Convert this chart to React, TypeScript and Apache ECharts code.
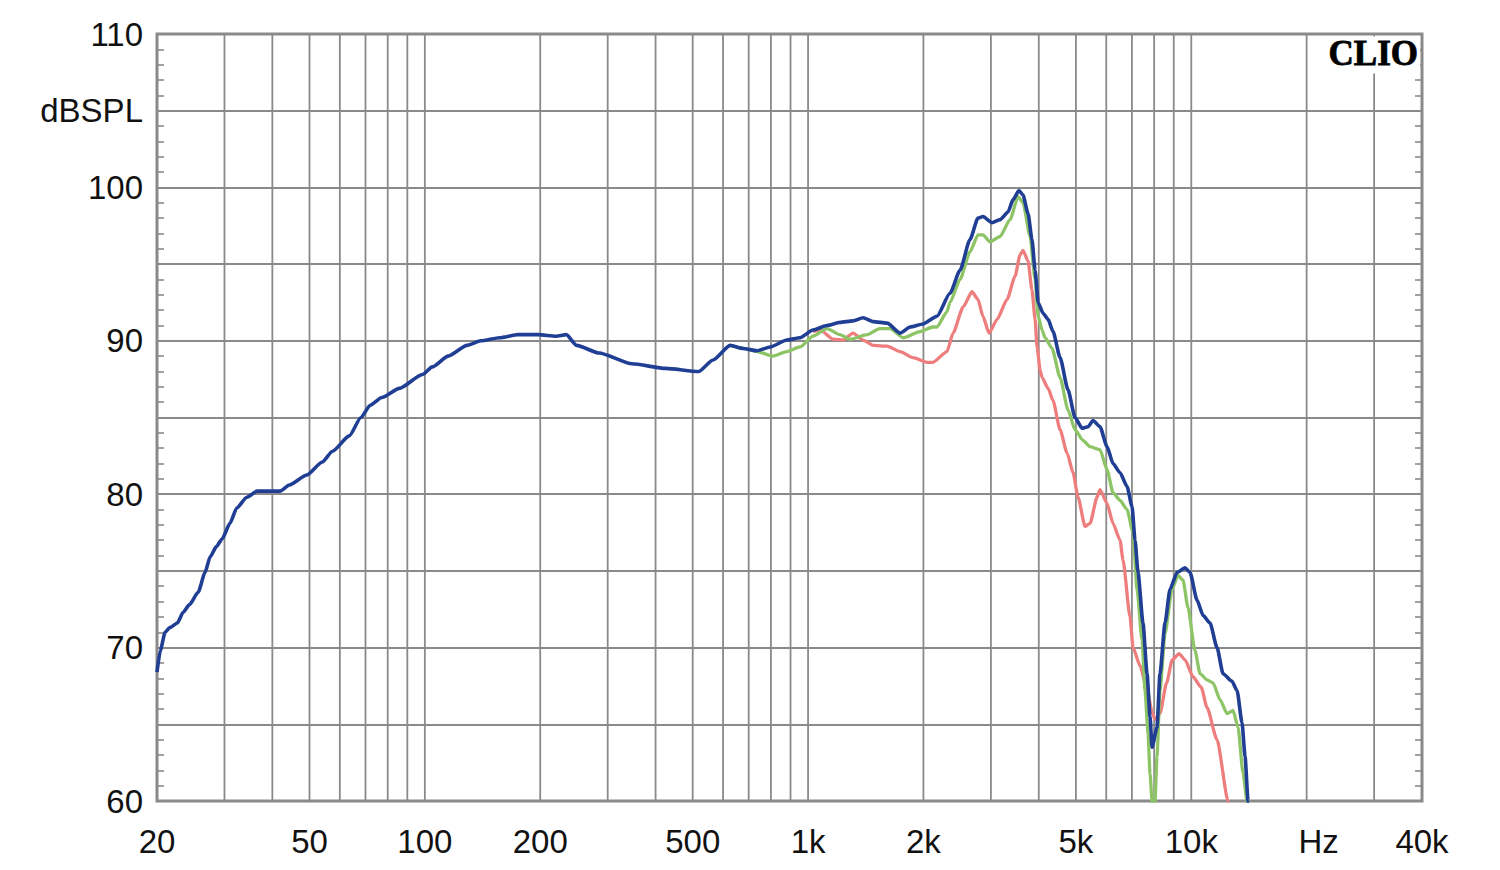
import React, { useEffect, useRef } from "react";
import * as echarts from "echarts";

// ---- Data ----
const Y_MIN = 60;
const Y_MAX = 110;
const X_MIN = 20;
const X_MAX = 40000;

const Y_LABELS: Record<number, string> = { 60: "60", 70: "70", 80: "80", 90: "90", 100: "100", 105: "dBSPL", 110: "110" };

const X_LABEL_FREQS = [20, 50, 100, 200, 500, 1000, 2000, 5000, 10000, 20000, 40000];
const X_LABELS = ["20", "50", "100", "200", "500", "1k", "2k", "5k", "10k", "Hz", "40k"];

const GRID_FREQS = [
  30, 40, 50, 60, 70, 80, 90, 100,
  200, 300, 400, 500, 600, 700, 800, 900, 1000,
  2000, 3000, 4000, 5000, 6000, 7000, 8000, 9000, 10000,
  20000, 30000,
];

const BLUE_FREQ = [
  20, 20.4, 21, 21.6, 22.6, 23.4, 24.3, 25.6, 26.7, 27.5, 28.6, 29.6, 31, 32.3, 34.3, 36.5, 39.4, 41.9, 44.3, 49.2,
  54, 57.4, 63.5, 68.1, 72, 77.2, 85.8, 98.5, 104.6, 115, 128.8, 140, 156.7, 175, 197.5, 220, 234, 249, 285, 347,
  425, 518, 565, 626, 677, 736, 796, 881, 953, 1030, 1120, 1212, 1310, 1392, 1478, 1608, 1738, 1846, 1995, 2170,
  2346, 2492, 2646, 2776, 2860, 3020, 3170, 3326, 3426, 3552, 3638, 3750, 3840, 3912, 3984, 4104, 4230, 4358, 4546, 4768,
  4972, 5188, 5378, 5542, 5778, 6028, 6248, 6518, 6798, 7004, 7132, 7262, 7482, 7666, 7804, 7900, 8138, 8286, 8540, 8800,
  9180, 9632, 9924, 10352, 10732, 11192, 11674, 12102, 12776, 13166, 13566, 13814, 14066, 14300,
];
const BLUE_DB = [
  68.4, 69.8, 71.0, 71.3, 71.6, 72.3, 72.8, 73.6, 74.9, 75.9, 76.6, 77.1, 78.1, 79.1, 79.8, 80.2, 80.2, 80.2, 80.6, 81.25,
  82.1, 82.8, 83.8, 85.0, 85.8, 86.3, 86.9, 87.8, 88.3, 89.0, 89.7, 90.0, 90.2, 90.4, 90.4, 90.3, 90.4, 89.7, 89.2, 88.5,
  88.2, 88.0, 88.75, 89.7, 89.5, 89.35, 89.6, 90.05, 90.2, 90.7, 91.0, 91.2, 91.3, 91.5, 91.25, 91.15, 90.5, 90.9, 91.1, 91.6,
  93.1, 94.6, 96.6, 98.0, 98.1, 97.7, 97.9, 98.4, 99.2, 99.8, 99.5, 98.3, 96.6, 94.6, 92.5, 91.8, 91.4, 90.6, 88.9, 86.8,
  85.0, 84.3, 84.4, 84.8, 84.4, 83.1, 82.0, 81.4, 80.5, 79.2, 77.0, 74.9, 71.6, 68.3, 65.5, 63.5, 64.8, 68.3, 71.6, 73.8,
  74.9, 75.2, 74.9, 73.1, 72.1, 71.6, 70.0, 68.3, 67.8, 67.2, 65.1, 62.9, 60.0, 57.0,
];

const GREEN_FREQ = [
  626, 677, 736, 810, 881, 953, 1030, 1120, 1212, 1287, 1426, 1538, 1636, 1770, 1960, 2118, 2170, 2304, 2346, 2492,
  2646, 2776, 2860, 2985, 3170, 3366, 3532, 3638, 3796, 3912, 3984, 4080, 4154, 4332, 4546, 4768, 4972, 5220, 5442, 5778,
  6028, 6248, 6518, 6798, 7048, 7218, 7438, 7574, 7712, 7804, 7900, 7950, 8000, 8042, 8138, 8286, 8540, 8906, 9234, 9516,
  9806, 10226, 10540, 10992, 11396, 11886, 12398, 12854, 13246, 13648, 13982, 14200,
];
const GREEN_DB = [
  89.7, 89.5, 89.3, 89.0, 89.3, 89.6, 90.3, 90.8, 90.4, 90.1, 90.4, 90.8, 90.8, 90.2, 90.6, 90.9, 90.9, 91.9, 92.5, 94.0,
  95.8, 96.9, 96.9, 96.45, 96.8, 97.9, 99.4, 99.0, 96.8, 94.0, 91.6, 90.7, 90.2, 89.5, 87.6, 85.5, 84.2, 83.5, 83.1, 82.9,
  81.6, 80.1, 79.6, 79.0, 77.5, 73.8, 70.5, 67.2, 64.4, 61.8, 60.0, 56.0, 56.0, 60.0, 62.9, 67.2, 70.9, 73.8, 74.7, 74.4,
  72.6, 69.8, 68.3, 67.9, 67.7, 66.6, 65.7, 65.9, 64.8, 61.8, 60.0, 57.0,
];

const RED_FREQ = [
  1030, 1076, 1164, 1234, 1310, 1392, 1478, 1608, 1738, 1880, 2044, 2118, 2304, 2390, 2538, 2678, 2776, 2860, 2966, 3114,
  3306, 3468, 3574, 3638, 3750, 3840, 3912, 3958, 4032, 4080, 4230, 4358, 4546, 4740, 4914, 5064, 5282, 5442, 5676, 5778,
  6028, 6248, 6518, 6636, 6920, 7048, 7350, 7666, 7900, 8042, 8286, 8620, 8920, 9290, 9632, 10104, 10620, 10990, 11674, 12472,
  12700,
];
const RED_DB = [
  90.6, 90.7, 90.1, 90.05, 90.5, 90.05, 89.7, 89.65, 89.3, 88.9, 88.6, 88.6, 89.3, 90.5, 92.2, 93.2, 92.7, 91.6, 90.5, 91.4,
  92.7, 94.2, 95.6, 95.9, 95.2, 93.3, 91.4, 89.6, 88.1, 87.6, 86.9, 86.1, 84.2, 82.7, 81.4, 79.8, 77.9, 78.1, 79.8, 80.3,
  79.4, 78.1, 77.0, 75.7, 72.0, 70.0, 68.8, 67.3, 65.8, 65.3, 65.7, 67.7, 69.2, 69.6, 69.2, 68.1, 67.4, 66.1, 64.0, 60.0,
  58.0,
];

const zip = (xs: number[], ys: number[]) => xs.map((x, i) => [x, ys[i]]);

const FONT = "'Liberation Sans', Arial, sans-serif";
const GRID_COLOR = "#8a8a8a";

export default function App() {
  const ref = useRef<HTMLDivElement>(null);

  useEffect(() => {
    if (!ref.current) return;
    const chart = echarts.init(ref.current, undefined, { renderer: "svg" });

    const yAxisBase = {
      type: "value" as const,
      min: Y_MIN,
      max: Y_MAX,
      interval: 5,
      axisLine: { show: false },
      axisTick: { show: false, inside: true },
      minorTick: { show: true, splitNumber: 5, length: 7, lineStyle: { color: GRID_COLOR, width: 1.6 } },
    };

    const lineSeries = (name: string, data: number[][], color: string, width: number, z: number) => ({
      type: "line",
      name,
      z,
      showSymbol: false,
      symbol: "none",
      smooth: 0.2,
      smoothMonotone: "x",
      data,
      lineStyle: { color, width },
    });

    chart.setOption({
      animation: false,
      backgroundColor: "#ffffff",
      grid: {
        left: 157,
        right: 78,
        top: 34,
        bottom: 69,
        show: true,
        borderColor: "#8a8a8a",
        borderWidth: 3,
        backgroundColor: "#ffffff",
      },
      xAxis: {
        type: "log",
        logBase: 10,
        min: X_MIN,
        max: X_MAX,
        axisLine: { show: false },
        axisTick: { show: false },
        axisLabel: { show: false },
        splitLine: { show: false },
      },
      yAxis: [
        {
          ...yAxisBase,
          position: "left",
          splitLine: { show: true, lineStyle: { color: GRID_COLOR, width: 1.8 } },
          axisLabel: {
            show: true,
            margin: 14,
            fontSize: 33,
            fontFamily: FONT,
            color: "#111111",
            formatter: (v: number) => Y_LABELS[v] ?? "",
          },
        },
        {
          ...yAxisBase,
          position: "right",
          splitLine: { show: false },
          axisLabel: { show: false },
        },
      ],
      graphic: [
        {
          type: "text",
          right: 80,
          top: 36,
          z: 100,
          style: {
            text: "CLIO",
            font: "bold 35px 'Liberation Serif', 'DejaVu Serif', serif",
            fill: "#000000",
            stroke: "#000000",
            lineWidth: 0.8,
            backgroundColor: "#ffffff",
            padding: [0, 2, 2, 2],
          },
        },
      ],
      series: [
        {
          type: "custom",
          name: "vgrid",
          z: 1,
          clip: false,
          silent: true,
          data: GRID_FREQS.map((f) => [f]),
          encode: { x: 0 },
          renderItem: (_params: any, api: any) => {
            const f = api.value(0);
            const top = api.coord([f, Y_MAX]);
            const bot = api.coord([f, Y_MIN]);
            return {
              type: "line",
              shape: { x1: top[0], y1: top[1], x2: bot[0], y2: bot[1] },
              style: { stroke: GRID_COLOR, lineWidth: 1.8 },
            };
          },
        },
        {
          type: "custom",
          name: "xlabels",
          z: 5,
          clip: false,
          silent: true,
          data: X_LABEL_FREQS.map((f) => [f]),
          encode: { x: 0 },
          renderItem: (params: any, api: any) => {
            const f = api.value(0);
            const p = api.coord([f, Y_MIN]);
            const text = X_LABELS[params.dataIndex];
            return {
              type: "text",
              x: p[0] + (text === "Hz" ? 12 : 0),
              y: p[1] + 40,
              style: {
                text,
                fontSize: 33,
                fontFamily: FONT,
                fill: "#111111",
                align: "center",
                verticalAlign: "middle",
              },
            };
          },
        },
        lineSeries("red", zip(RED_FREQ, RED_DB), "#ee7d7d", 3.3, 3),
        lineSeries("green", zip(GREEN_FREQ, GREEN_DB), "#8dc466", 3.3, 4),
        lineSeries("blue", zip(BLUE_FREQ, BLUE_DB), "#1f3e94", 3.6, 5),
      ],
    });

    return () => chart.dispose();
  }, []);

  return (
    <div
      ref={ref}
      style={{ position: "fixed", left: 0, top: 0, width: 1500, height: 870, background: "#fff" }}
    />
  );
}
